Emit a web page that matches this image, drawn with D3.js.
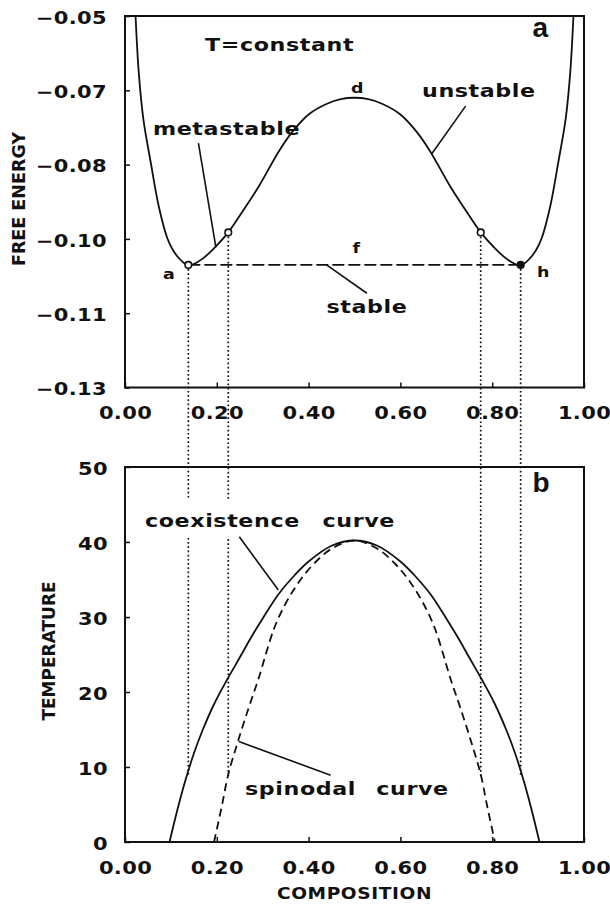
<!DOCTYPE html>
<html>
<head>
<meta charset="utf-8">
<script src="https://cdn.jsdelivr.net/npm/d3@7"></script>
<style>
    body { margin: 0; background: #fff; }
    svg { font-family: "DejaVu Sans", sans-serif; font-weight: bold; }
</style>
</head>
<body>
<svg id="drawing_region"></svg>
<script>
// panel a: free energy vs composition at constant T
const feComposition = [0.023, 0.030, 0.040, 0.056, 0.074, 0.092, 0.105, 0.118, 0.130, 0.140, 0.150, 0.170, 0.196, 0.225, 0.260, 0.292, 0.336, 0.364, 0.400, 0.440, 0.470, 0.500,
                       0.530, 0.560, 0.600, 0.636, 0.664, 0.708, 0.740, 0.775, 0.804, 0.830, 0.850, 0.860, 0.870, 0.882, 0.895, 0.908, 0.926, 0.944, 0.960, 0.970, 0.977];
const freeEnergy    = [-0.0500, -0.0622, -0.0722, -0.0815, -0.0912, -0.0978, -0.1005, -0.1022, -0.1033, -0.1036, -0.1034, -0.1022, -0.0998, -0.0966, -0.0915, -0.0866, -0.0790, -0.0750, -0.0712, -0.0689, -0.0679, -0.0676,
                       -0.0679, -0.0689, -0.0712, -0.0750, -0.0790, -0.0866, -0.0915, -0.0966, -0.0998, -0.1022, -0.1034, -0.1036, -0.1033, -0.1022, -0.1005, -0.0978, -0.0912, -0.0815, -0.0722, -0.0622, -0.0500];

const binodalComp = [0.138, 0.862];
const tieEnergy = -0.1036;
const spinodalComp = [0.225, 0.775];
const spinodalEnergy = -0.0966;

// panel b: phase diagram
const coexComposition = [0.097, 0.115, 0.132, 0.150, 0.169, 0.195, 0.222, 0.250, 0.275, 0.300, 0.334, 0.370, 0.400, 0.450, 0.500,
                         0.550, 0.600, 0.630, 0.666, 0.700, 0.725, 0.750, 0.778, 0.805, 0.831, 0.850, 0.868, 0.885, 0.903];
const coexTemperature = [0, 4.5, 8.3, 11.8, 14.9, 18.5, 21.6, 24.6, 27.3, 29.8, 33.0, 35.6, 37.4, 39.5, 40.2,
                         39.5, 37.4, 35.6, 33.0, 29.8, 27.3, 24.6, 21.6, 18.5, 14.9, 11.8, 8.3, 4.5, 0];
const spinComposition = [0.194, 0.210, 0.225, 0.247, 0.270, 0.290, 0.325, 0.350, 0.377, 0.410, 0.450, 0.500,
                         0.550, 0.590, 0.623, 0.650, 0.675, 0.710, 0.730, 0.753, 0.775, 0.790, 0.806];
const spinTemperature = [0, 4.5, 9.0, 13.6, 18.0, 21.6, 28.5, 31.8, 34.5, 37.0, 39.1, 40.2,
                         39.1, 37.0, 34.5, 31.8, 28.5, 21.6, 18.0, 13.6, 9.0, 4.5, 0];
const tConstant = 8.7;

const xTicks = [0, 0.2, 0.4, 0.6, 0.8, 1.0];
const energyTicks = [-0.05, -0.066, -0.082, -0.098, -0.114, -0.13];
const tempTicks = [0, 10, 20, 30, 40, 50];

// leader lines [composition, value] pairs
const energyLeaders = [
    [[0.160, -0.0774], [0.198, -0.0998]],
    [[0.742, -0.0694], [0.668, -0.0797]],
    [[0.439, -0.1036], [0.527, -0.1097]]
];
const tempLeaders = [
    [[0.249, 40.7], [0.334, 33.6]],
    [[0.248, 13.4], [0.448, 8.9]]
];

const ink = '#111';
const sx = 1.2;

const svg = d3.select('#drawing_region')
    .attr('width', 610)
    .attr('height', 904);

const x = d3.scaleLinear().domain([0, 1]).range([125, 584]);
const yE = d3.scaleLinear().domain([-0.13, -0.05]).range([387.5, 16]);
const yT = d3.scaleLinear().domain([0, 50]).range([842, 467]);

// dotted construction lines
const dotted = svg.append('g')
    .attr('stroke', ink)
    .attr('stroke-width', 1.7)
    .attr('stroke-dasharray', '1.7,2.5');
binodalComp.forEach(c => {
    dotted.append('line')
        .attr('x1', x(c)).attr('x2', x(c))
        .attr('y1', yE(tieEnergy)).attr('y2', yT(tConstant));
});
spinodalComp.forEach(c => {
    dotted.append('line')
        .attr('x1', x(c)).attr('x2', x(c))
        .attr('y1', yE(spinodalEnergy)).attr('y2', yT(tConstant));
});

// white box behind coexistence label
svg.append('rect')
    .attr('x', 140).attr('y', 499)
    .attr('width', 262).attr('height', 39)
    .attr('fill', '#fff');

// free energy curve
const feLine = d3.line()
    .x((d, i) => x(feComposition[i]))
    .y(d => yE(d))
    .curve(d3.curveCatmullRom.alpha(0.5));
svg.append('path')
    .attr('d', feLine(freeEnergy))
    .attr('fill', 'none')
    .attr('stroke', ink)
    .attr('stroke-width', 1.8);

// tie line
svg.append('line')
    .attr('x1', x(binodalComp[0])).attr('x2', x(binodalComp[1]))
    .attr('y1', yE(tieEnergy)).attr('y2', yE(tieEnergy))
    .attr('stroke', ink)
    .attr('stroke-width', 1.8)
    .attr('stroke-dasharray', '12,4');

// coexistence and spinodal curves
const tLine = comps => d3.line()
    .x((d, i) => x(comps[i]))
    .y(d => yT(d))
    .curve(d3.curveCatmullRom.alpha(0.5));
svg.append('path')
    .attr('d', tLine(coexComposition)(coexTemperature))
    .attr('fill', 'none')
    .attr('stroke', ink)
    .attr('stroke-width', 1.8);
svg.append('path')
    .attr('d', tLine(spinComposition)(spinTemperature))
    .attr('fill', 'none')
    .attr('stroke', ink)
    .attr('stroke-width', 1.8)
    .attr('stroke-dasharray', '8,5');

// leader lines
energyLeaders.forEach(l => {
    svg.append('line')
        .attr('x1', x(l[0][0])).attr('y1', yE(l[0][1]))
        .attr('x2', x(l[1][0])).attr('y2', yE(l[1][1]))
        .attr('stroke', ink).attr('stroke-width', 1.6);
});
tempLeaders.forEach(l => {
    svg.append('line')
        .attr('x1', x(l[0][0])).attr('y1', yT(l[0][1]))
        .attr('x2', x(l[1][0])).attr('y2', yT(l[1][1]))
        .attr('stroke', ink).attr('stroke-width', 1.6);
});

// points on the free energy curve
svg.selectAll('circle.bin')
    .data(binodalComp)
    .enter().append('circle')
    .attr('cx', d => x(d))
    .attr('cy', yE(tieEnergy))
    .attr('r', 3.3)
    .attr('fill', (d, i) => i == 0 ? '#fff' : ink)
    .attr('stroke', ink).attr('stroke-width', 1.6);
svg.selectAll('circle.spin')
    .data(spinodalComp)
    .enter().append('circle')
    .attr('cx', d => x(d))
    .attr('cy', yE(spinodalEnergy))
    .attr('r', 3.3)
    .attr('fill', '#fff')
    .attr('stroke', ink).attr('stroke-width', 1.6);

// frames
[yE, yT].forEach(ys => {
    svg.append('rect')
        .attr('x', x(0)).attr('y', ys.range()[1])
        .attr('width', x(1) - x(0))
        .attr('height', ys.range()[0] - ys.range()[1])
        .attr('fill', 'none')
        .attr('stroke', ink)
        .attr('stroke-width', 2);
});

// axes
function styleAxis(g) {
    g.attr('font-family', null).attr('font-size', 17.5).attr('color', ink);
    g.select('.domain').remove();
    g.selectAll('.tick line').attr('stroke-width', 1.5);
    g.selectAll('text').attr('letter-spacing', 0.3);
}
const fmt = d3.format('.2f');

[yE, yT].forEach(ys => {
    svg.append('g')
        .attr('transform', `translate(0, ${ys.range()[0]})`)
        .call(d3.axisBottom(x).tickValues(xTicks).tickFormat(fmt).tickSizeInner(-5).tickSizeOuter(0))
        .call(styleAxis)
        .call(g => g.selectAll('text')
            .attr('y', 32).attr('dy', null)
            .attr('transform', `scale(${sx},1)`));
});

svg.append('g')
    .attr('transform', `translate(${x(0)}, 0)`)
    .call(d3.axisLeft(yE).tickValues(energyTicks).tickFormat(fmt).tickSizeInner(-5).tickSizeOuter(0))
    .call(styleAxis)
    .call(g => g.selectAll('text')
        .attr('x', -18 / sx).attr('dy', '0.42em')
        .attr('transform', `scale(${sx},1)`));

svg.append('g')
    .attr('transform', `translate(${x(0)}, 0)`)
    .call(d3.axisLeft(yT).tickValues(tempTicks).tickSizeInner(-5).tickSizeOuter(0))
    .call(styleAxis)
    .call(g => g.selectAll('text')
        .attr('x', -17 / sx).attr('dy', '0.42em')
        .attr('transform', `scale(${sx},1)`));

// texts
function wideText(px, py, str, size, anchor) {
    return svg.append('text')
        .attr('transform', `translate(${px},${py}) scale(${sx},1)`)
        .attr('font-size', size)
        .attr('text-anchor', anchor || 'start')
        .attr('letter-spacing', 0.5)
        .attr('fill', ink)
        .text(str);
}

wideText(205, 50.5, 'T=constant', 18.5);
wideText(357.5, 93, 'd', 14.5, 'middle');
wideText(422, 96.5, 'unstable', 18.5);
wideText(153, 135, 'metastable', 18.5);
wideText(356.5, 253, 'f', 14.5, 'middle');
wideText(163, 278.5, 'a', 14.5);
wideText(537, 277, 'h', 14.5);
wideText(326.5, 313, 'stable', 18.5);

const coex = wideText(145, 527, '', 18.5);
coex.append('tspan').text('coexistence');
coex.append('tspan').attr('dx', 12).text(' curve');

const spin = wideText(245, 795, '', 18.5);
spin.append('tspan').text('spinodal');
spin.append('tspan').attr('dx', 10).text(' curve');

wideText(354.5, 898.5, 'COMPOSITION', 15.5, 'middle');

// panel letters
[['a', 36.7], ['b', 491.7]].forEach(p => {
    svg.append('text')
        .attr('x', 532.5).attr('y', p[1])
        .attr('font-family', 'Liberation Sans')
        .attr('font-size', 28)
        .attr('fill', ink)
        .text(p[0]);
});

// axis titles
svg.append('text')
    .attr('transform', 'translate(25, 199) rotate(-90)')
    .attr('text-anchor', 'middle')
    .attr('font-size', 17.5)
    .attr('fill', ink)
    .text('FREE ENERGY');
svg.append('text')
    .attr('transform', 'translate(55, 651) rotate(-90)')
    .attr('text-anchor', 'middle')
    .attr('font-size', 17)
    .attr('fill', ink)
    .text('TEMPERATURE');
</script>
</body>
</html>
